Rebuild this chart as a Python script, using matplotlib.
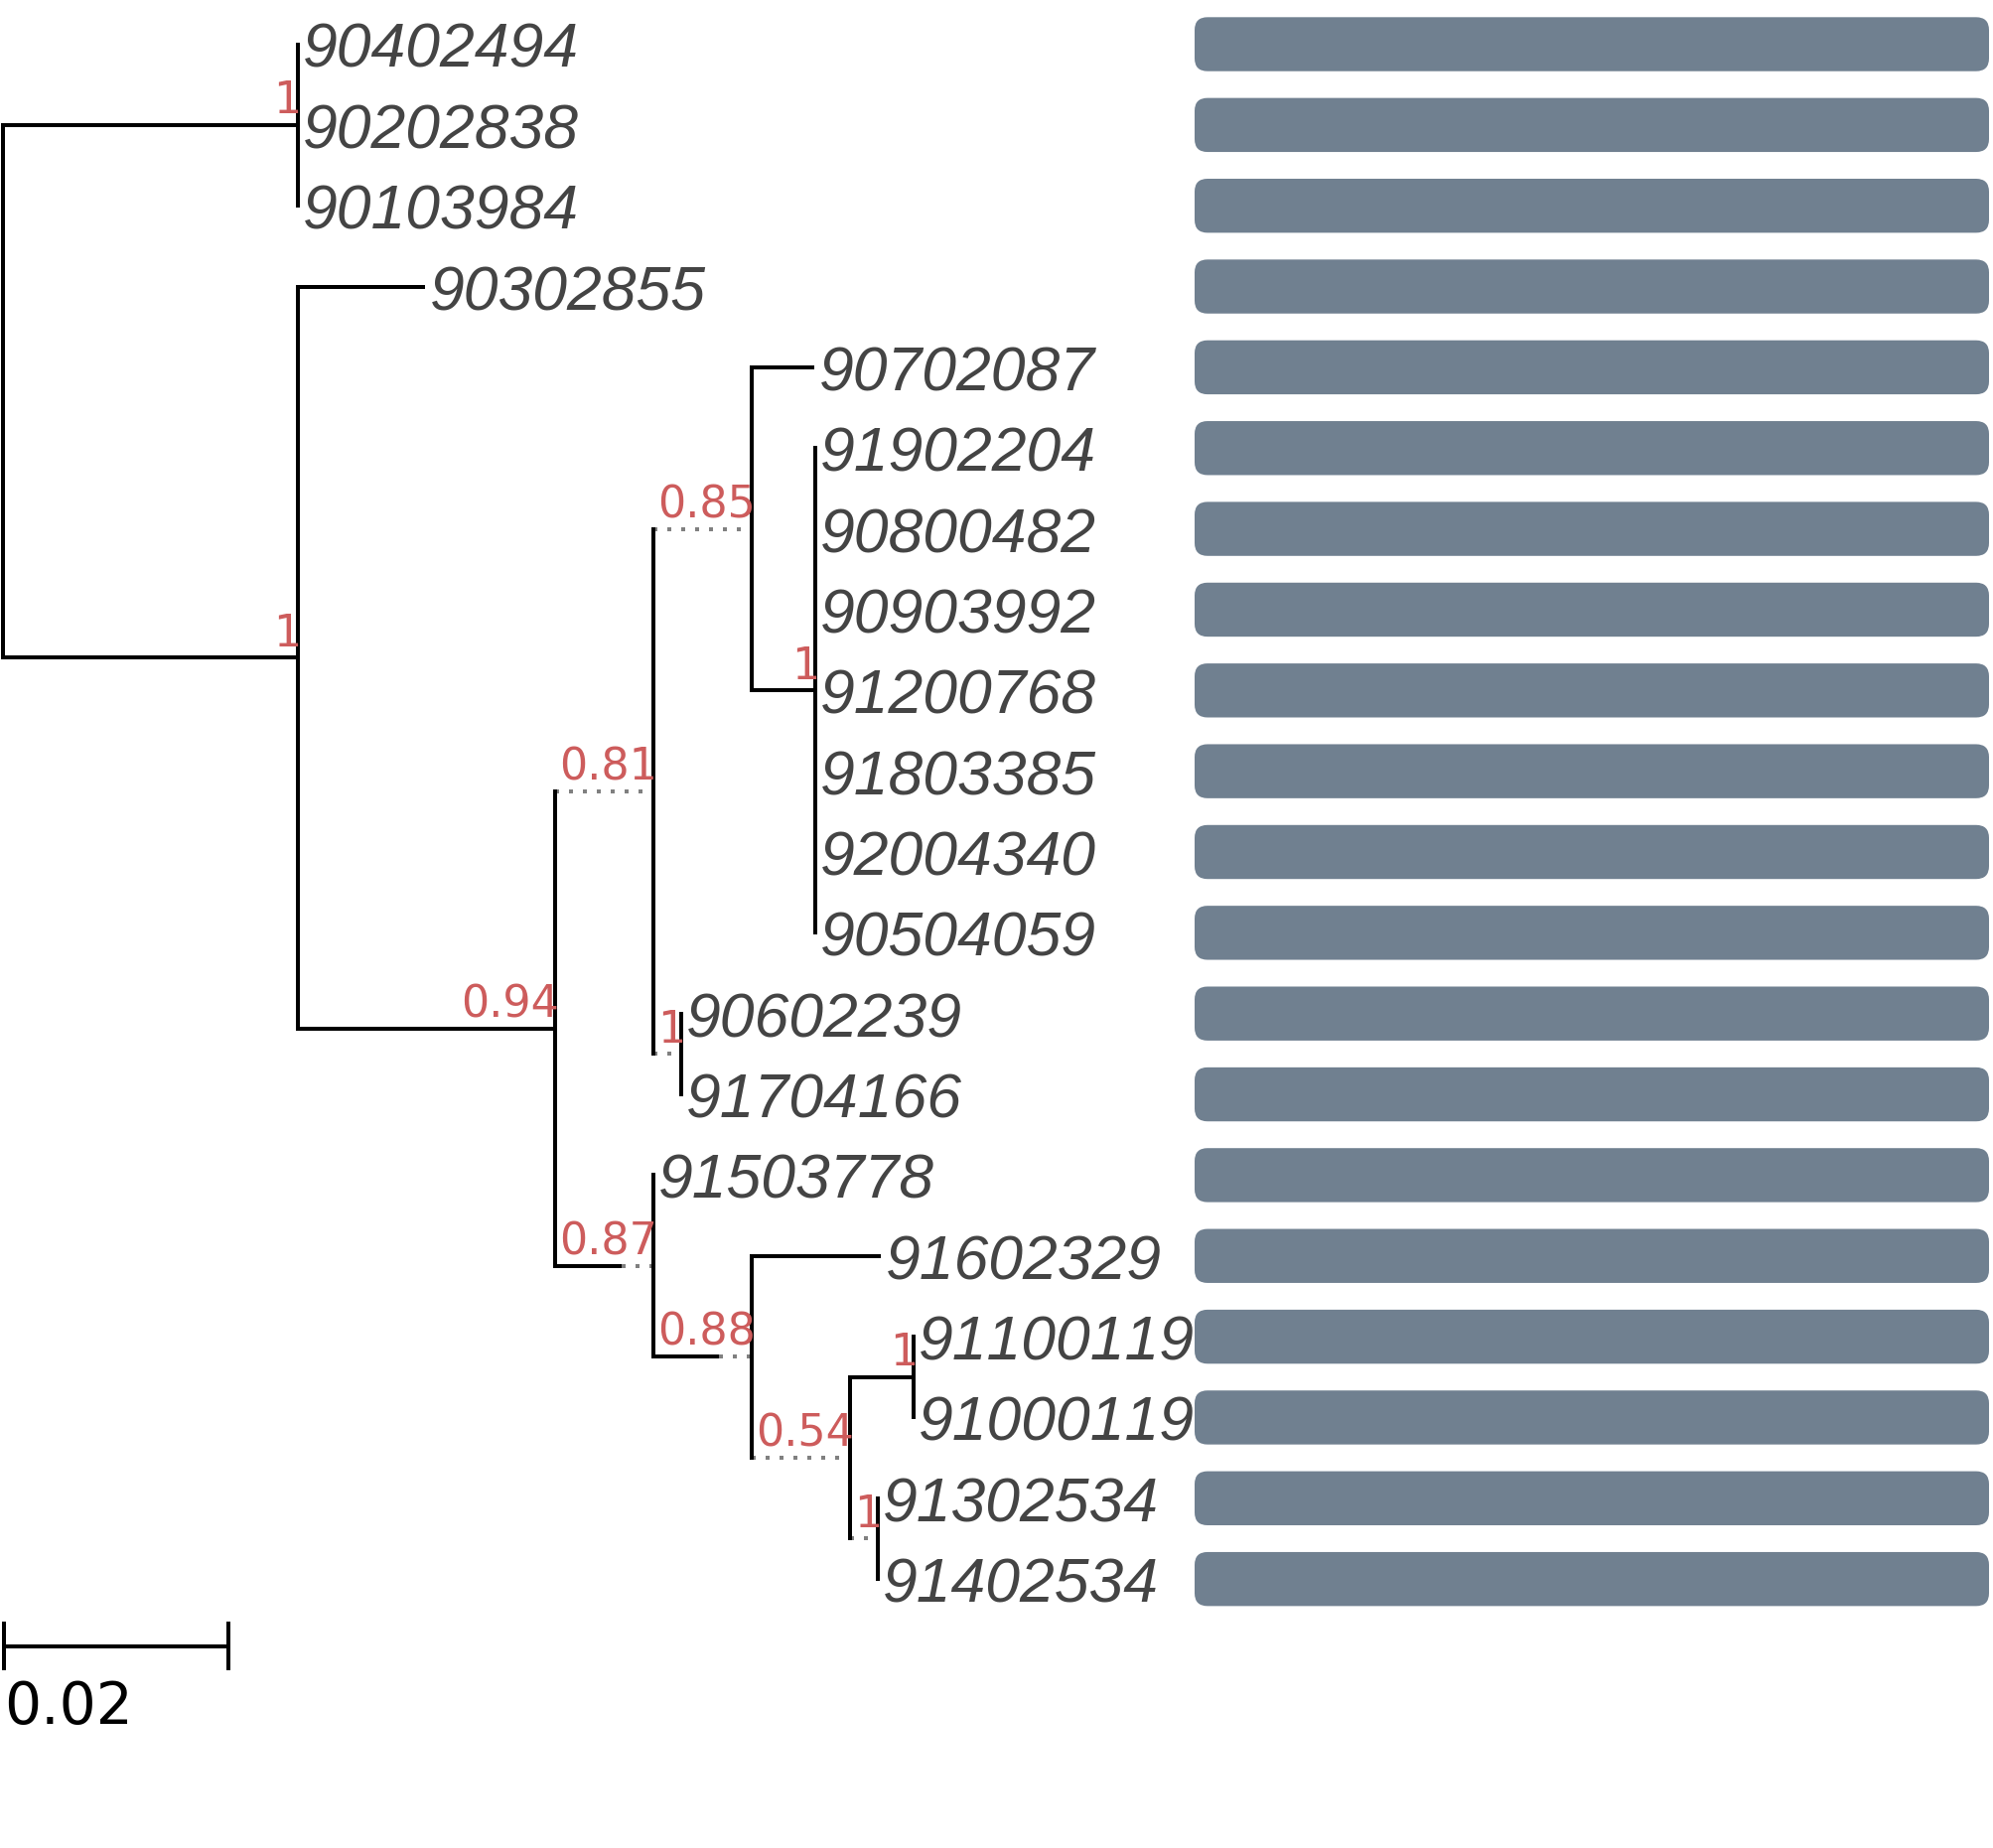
import matplotlib
matplotlib.use("Agg")
import matplotlib.pyplot as plt
from matplotlib.patches import FancyBboxPatch

# no pair kerning in the labels ("11" stays as wide as other digits)
plt.rcParams["text.kerning_factor"] = 24

# leaves, top to bottom, and their branch lengths (subst./site)
leaf_names = ["90402494", "90202838", "90103984", "90302855", "90702087",
              "91902204", "90800482", "90903992", "91200768", "91803385",
              "92004340", "90504059", "90602239", "91704166", "91503778",
              "91602329", "91100119", "91000119", "91302534", "91402534"]
leaf_lengths = [0, 0, 0, 0.01138, 0.0056,
                0, 0, 0, 0, 0,
                0, 0, 0, 0, 0,
                0.01152, 0, 0, 0, 0]

# internal nodes: children, branch length, support
clade_names = ["root", "A", "B", "C", "D", "E", "F", "G", "H", "I", "J", "K", "L"]
clade_children = [["A", "B"],
                  ["90402494", "90202838", "90103984"],
                  ["90302855", "C"],
                  ["D", "H"],
                  ["E", "G"],
                  ["90702087", "F"],
                  ["91902204", "90800482", "90903992", "91200768",
                   "91803385", "92004340", "90504059"],
                  ["90602239", "91704166"],
                  ["91503778", "I"],
                  ["91602329", "J"],
                  ["K", "L"],
                  ["91100119", "91000119"],
                  ["91302534", "91402534"]]
clade_lengths = [0, 0.02624, 0.02624, 0.02298, 0, 0, 0.00566, 0,
                 0.00591, 0.00584, 0, 0.0057, 0]
clade_support = ["", "1", "1", "0.94", "0.81", "0.85", "1", "1",
                 "0.87", "0.88", "0.54", "1", "1"]

# bar face next to every leaf
bar_values = [1, 1, 1, 1, 1, 1, 1, 1, 1, 1,
              1, 1, 1, 1, 1, 1, 1, 1, 1, 1]
scale_length = 0.02

W, H = 2007, 1861
PX_PER_UNIT = 11300
ROOT_X = 3.0
LEAF_Y0, LEAF_STEP = 44.5, 81.35
LW = 2.88  # 4 px at 100 dpi
SUPPORT_COLOR = "#cd5c5c"

fig = plt.figure(figsize=(W / 100, H / 100), dpi=100)
ax = fig.add_axes([0, 0, 1, 1])
ax.set_xlim(0, W)
ax.set_ylim(H, 0)
ax.axis("off")
renderer = fig.canvas.get_renderer()

leaf_idx = {n: i for i, n in enumerate(leaf_names)}
clade_idx = {n: i for i, n in enumerate(clade_names)}


def draw(name, parent_x):
    if name in leaf_idx:
        i = leaf_idx[name]
        y = LEAF_Y0 + i * LEAF_STEP
        bl = leaf_lengths[i] * PX_PER_UNIT
        x = parent_x + bl
        if bl > 0:
            ax.plot([parent_x, x], [y, y], color="black", lw=LW,
                    solid_capstyle="butt", zorder=3)
        ax.text(x + 5, y + 23.5, name, fontsize=45, family="Liberation Sans",
                style="italic", color="#444444", ha="left", va="baseline")
        return y
    k = clade_idx[name]
    bl = clade_lengths[k] * PX_PER_UNIT
    face = 0
    t = None
    if clade_support[k]:
        t = ax.text(0, 0, clade_support[k], fontsize=32, family="DejaVu Sans",
                    color=SUPPORT_COLOR, ha="right", va="baseline", zorder=4)
        face = t.get_window_extent(renderer).width
    x = parent_x + max(bl, face)
    ys = [draw(c, x) for c in clade_children[k]]
    y = (ys[0] + ys[-1]) / 2
    ax.plot([x, x], [ys[0], ys[-1]], color="black", lw=LW,
            solid_capstyle="projecting", zorder=3)
    if bl > 0:
        ax.plot([parent_x, parent_x + bl], [y, y], color="black", lw=LW,
                solid_capstyle="butt", zorder=3)
    if face > bl:
        ax.plot([parent_x + bl, x], [y, y], color="gray", lw=LW,
                linestyle=(0, (1, 2.5)), dash_capstyle="butt", zorder=2)
    if t is not None:
        t.set_position((x + 4, y - 11.5))
    return y


draw("root", ROOT_X)

# bars
for i, v in enumerate(bar_values):
    y = LEAF_Y0 + i * LEAF_STEP
    ax.add_patch(FancyBboxPatch((1203, y - 27.2), v * 800, 54.4,
                                boxstyle="round,pad=0,rounding_size=13",
                                fc="#708090", ec="none"))

# scale bar
sb_y = 1657.5
x0 = 4
x1 = x0 + scale_length * PX_PER_UNIT
ax.plot([x0, x1], [sb_y, sb_y], color="black", lw=LW, solid_capstyle="butt")
for xx in (x0, x1):
    ax.plot([xx, xx], [sb_y - 24.5, sb_y + 24.5], color="black", lw=LW,
            solid_capstyle="butt")
ax.text(x0 + 0.5, 1736, f"{scale_length:g}", fontsize=42, family="DejaVu Sans",
        color="black", ha="left", va="baseline")

fig.savefig("out.png", dpi=100)
